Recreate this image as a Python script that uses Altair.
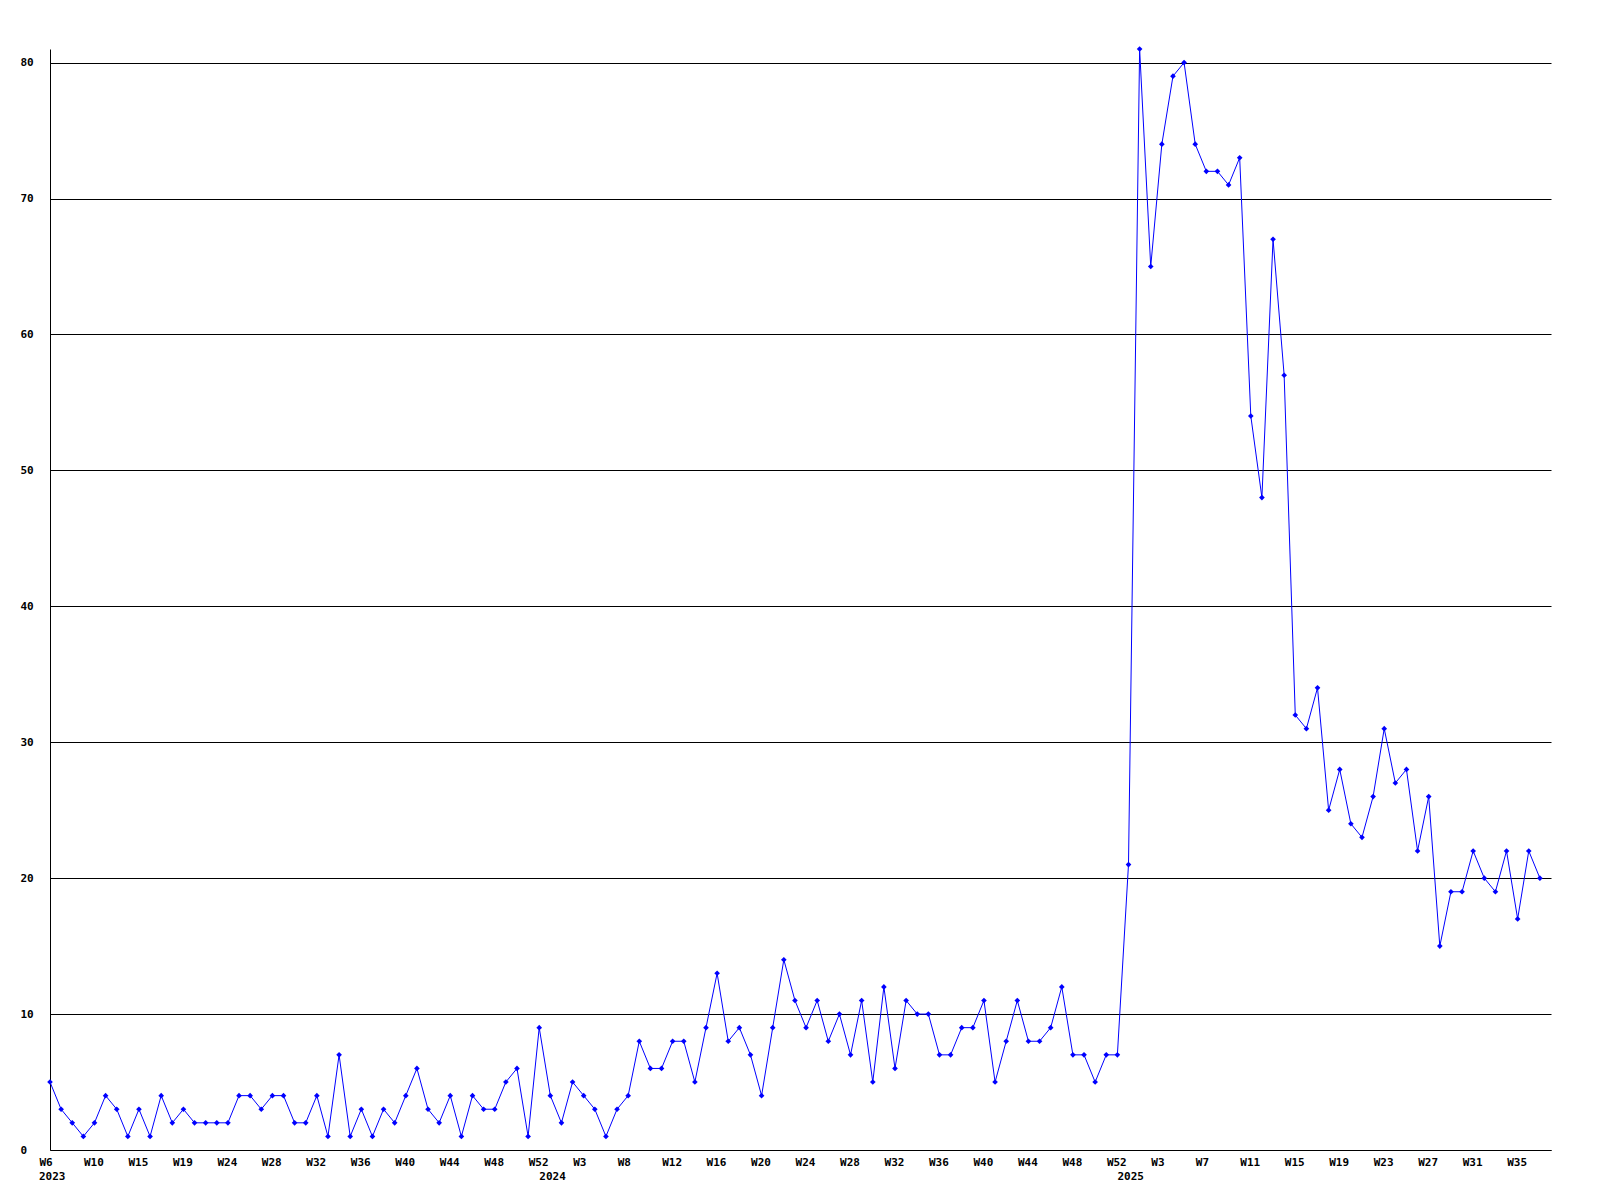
import altair as alt
import pandas as pd

# Weekly counts
values_2023 = [5, 3, 2, 1, 2, 4, 3, 1, 3, 1, 4, 2, 3, 2, 2, 2, 2, 4, 4, 3,
               4, 4, 2, 2, 4, 1, 7, 1, 3, 1, 3, 2, 4, 6, 3, 2, 4, 1, 4, 3,
               3, 5, 6, 1, 9]
values_2024 = [4, 2, 5, 4, 3, 1, 3, 4, 8, 6, 6, 8, 8, 5, 9, 13, 8, 9, 7, 4,
               9, 14, 11, 9, 11, 8, 10, 7, 11, 5, 12, 6, 11, 10, 10, 7, 7, 9, 9, 11,
               5, 8, 11, 8, 8, 9, 12, 7, 7, 5, 7, 7]
values_2025 = [21, 81, 65, 74, 79, 80, 74, 72, 72, 71, 73, 54, 48, 67, 57, 32, 31, 34, 25, 28,
               24, 23, 26, 31, 27, 28, 22, 26, 15, 19, 19, 22, 20, 19, 22, 17, 22, 20]

tick_labels = ["W6", "W10", "W15", "W19", "W24", "W28", "W32", "W36", "W40", "W44", "W48", "W52",
               "W3", "W8", "W12", "W16", "W20", "W24", "W28", "W32", "W36", "W40", "W44", "W48", "W52",
               "W3", "W7", "W11", "W15", "W19", "W23", "W27", "W31", "W35"]
tick_step = 4
years = ["2023", "2024", "2025"]
y_ticks = [0, 10, 20, 30, 40, 50, 60, 70, 80]

all_values = values_2023 + values_2024 + values_2025
df = pd.DataFrame({"idx": list(range(len(all_values))), "value": all_values})

year_start = [0, len(values_2023), len(values_2023) + len(values_2024)]
year_df = pd.DataFrame({"idx": year_start, "year": years})

tick_idx = [tick_step * i for i in range(len(tick_labels))]
label_expr = "[" + ",".join("'" + t + "'" for t in tick_labels) + "][round(datum.value/" + str(tick_step) + ")]"

FONT = "DejaVu Sans Mono"
W, H = 1501, 1101
BLUE = "#0000ff"

x_enc = alt.X(
    "idx:Q",
    scale=alt.Scale(domain=[0, len(all_values)], nice=False, zero=False),
    axis=alt.Axis(values=tick_idx, labelExpr=label_expr, title=None, grid=False,
                  ticks=False, tickSize=0, labelAlign="left", labelOffset=-11,
                  labelPadding=6, labelFont=FONT, labelFontSize=11, labelFontWeight="bold",
                  labelColor="black", domainColor="black", domainWidth=1,
                  labelFlush=False, labelOverlap=False),
)
y_enc = alt.Y(
    "value:Q",
    scale=alt.Scale(domain=[0, 81], nice=False, zero=True),
    axis=alt.Axis(values=y_ticks, title=None, grid=True, gridColor="black", gridWidth=1,
                  gridOpacity=1, ticks=False, tickSize=0, labelAlign="left",
                  labelBaseline="middle", labelPadding=30, labelFont=FONT,
                  labelFontSize=11, labelFontWeight="bold", labelColor="black",
                  domainColor="black", domainWidth=1, labelOverlap=False),
)

base = alt.Chart(df)
line = base.mark_line(color=BLUE, strokeWidth=1).encode(x=x_enc, y=y_enc)
pts = base.mark_point(shape="diamond", filled=True, size=32, color=BLUE, opacity=1).encode(x=x_enc, y=y_enc)
year_text = alt.Chart(year_df).mark_text(
    align="left", baseline="top", dx=-11, font=FONT, fontSize=11, fontWeight="bold", color="black"
).encode(x=alt.X("idx:Q"), y=alt.value(H + 21), text="year:N")

chart = alt.layer(line, pts, year_text).properties(
    width=W, height=H,
    padding={"left": 42, "top": 41, "right": 20, "bottom": 40},
    autosize=alt.AutoSizeParams(type="none"),
    background="white",
).configure_view(stroke=None)

chart.save("out.html", embed_options={"renderer": "svg", "actions": False})
